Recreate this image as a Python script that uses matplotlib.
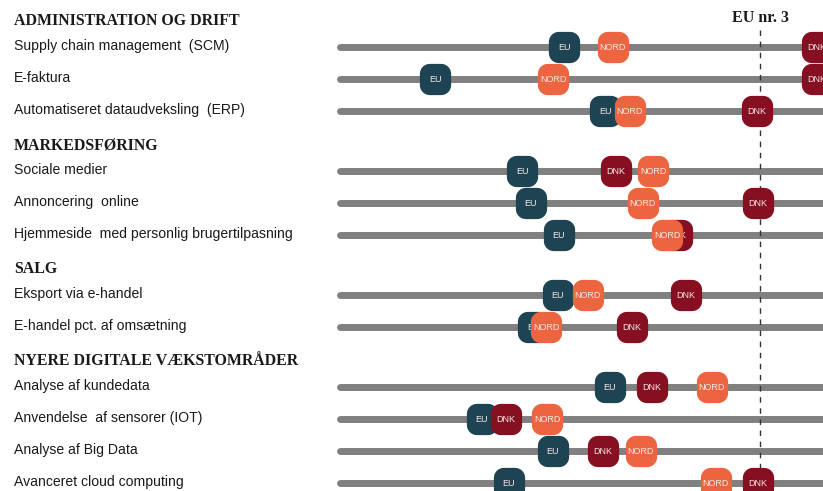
import numpy as np
import matplotlib
matplotlib.use("Agg")
import matplotlib.pyplot as plt
from matplotlib.path import Path

# groups and rows (top to bottom)
groups = ["ADMINISTRATION OG DRIFT", "MARKEDSFØRING", "SALG", "NYERE DIGITALE VÆKSTOMRÅDER"]
rows = [
    ["Supply chain management  (SCM)", "E-faktura", "Automatiseret dataudveksling  (ERP)"],
    ["Sociale medier", "Annoncering  online", "Hjemmeside  med personlig brugertilpasning"],
    ["Eksport via e-handel", "E-handel pct. af omsætning"],
    ["Analyse af kundedata", "Anvendelse  af sensorer (IOT)", "Analyse af Big Data", "Avanceret cloud computing"],
]

# index positions (0 = start of track)
eu = [46.4, 19.7, 54.9, 37.7, 39.5, 45.3, 45.1, 40.0, 55.9, 29.4, 44.1, 35.0]
dnk = [98.8, 98.8, 86.3, 57.1, 86.5, 69.8, 71.6, 60.5, 64.6, 34.4, 54.5, 86.5]
nord = [56.5, 44.1, 60.0, 64.8, 62.7, 67.7, 51.3, 42.7, 77.0, 42.9, 62.3, 77.8]
eu_nr3 = 87.0

colors = {"EU": "#1e4352", "DNK": "#870f22", "NORD": "#ec6540"}
track_color = "#808080"


def rounded_square(r=0.32, n=10):
    verts = []
    c = 0.5 - r
    for (cx, cy, a0) in [(c, -c, -90), (c, c, 0), (-c, c, 90), (-c, -c, 180)]:
        a = np.radians(np.linspace(a0, a0 + 90, n))
        verts += list(zip(cx + r * np.cos(a), cy + r * np.sin(a)))
    verts.append(verts[0])
    codes = [Path.MOVETO] + [Path.LINETO] * (len(verts) - 2) + [Path.CLOSEPOLY]
    return Path(verts, codes)


marker = rounded_square()

fig = plt.figure(figsize=(8.23, 4.91), dpi=100)
ax = fig.add_axes([0, 0, 1, 1])
ax.set_xlim(-70.4, 100)
ax.set_ylim(491, 0)
ax.axis("off")

lab_tr = ax.get_yaxis_transform()

# layout in pixel rows
y = 20
row_y = []
for g, items in zip(groups, rows):
    ax.text(14 / 823, y + 1, g, transform=lab_tr, ha="left", va="center",
            family="Liberation Serif", fontweight="bold", fontsize=11.4, color="#1a1a1a")
    y += 27
    for name in items:
        row_y.append(y)
        ax.text(14 / 823, y - 1, name, transform=lab_tr, ha="left", va="center",
                family="Liberation Sans", fontsize=10.1, color="#1a1a1a")
        y += 32
    y += 1

for ry in row_y:
    ax.plot([0, 115], [ry, ry], color=track_color, lw=5, solid_capstyle="round", zorder=1)

ax.plot([eu_nr3, eu_nr3], [30, 491], color="#333333", lw=1, ls=(0, (4, 4)), zorder=2)
ax.text(eu_nr3, 18, "EU nr. 3", ha="center", va="center", family="Liberation Serif",
        fontweight="bold", fontsize=11.5, color="#1a1a1a")

z = 3
for key, vals in [("EU", eu), ("DNK", dnk), ("NORD", nord)]:
    ax.scatter(vals, row_y, marker=marker, s=22.5 ** 2, color=colors[key], lw=0, zorder=z)
    for v, ry in zip(vals, row_y):
        ax.text(v, ry, key, ha="center", va="center", family="Liberation Sans",
                fontsize=6.5, color="#f4e8e8", zorder=z + 0.5)
    z += 1

fig.savefig("out.png", dpi=100)
